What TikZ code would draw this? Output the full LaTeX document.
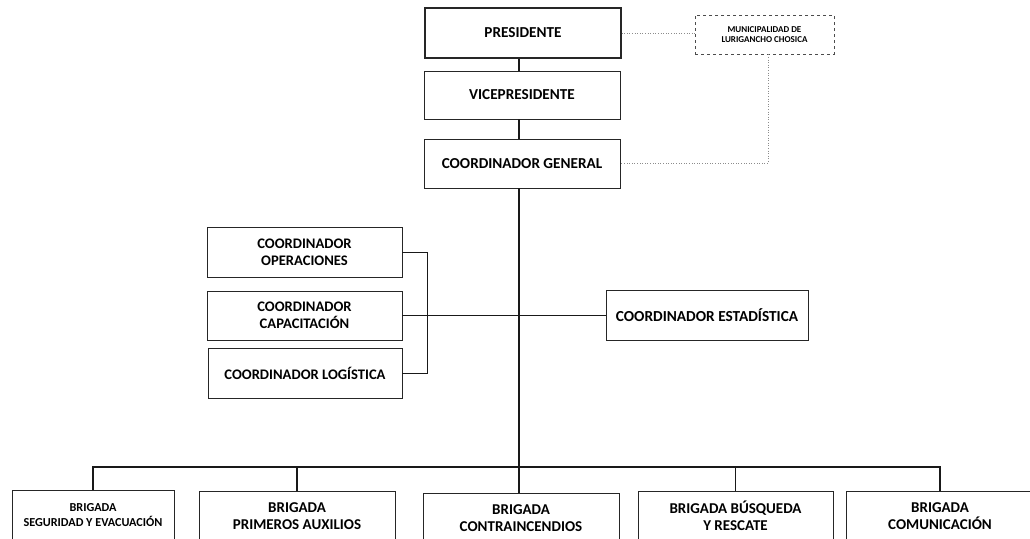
\documentclass[tikz,border=0pt]{standalone}
\usepackage{fontspec}
\setmainfont{Carlito}
\begin{document}
\begin{tikzpicture}[x=1pt,y=-1pt,
  box/.style={draw=black!85, line width=0.8pt, font=\bfseries, align=center, inner sep=0pt},
  topbox/.style={box, font=\fontsize{15.2}{17}\selectfont\bfseries},
  coordbox/.style={box, font=\fontsize{14.6}{17}\selectfont\bfseries},
  brigbox/.style={box, font=\fontsize{15}{17}\selectfont\bfseries},
  conn/.style={line width=1.1pt, black!90},
  dotconn/.style={line width=0.6pt, black!45, dotted}]
\useasboundingbox (0,0) rectangle (1030,538);
\clip (0,0) rectangle (1030,538);
\fill[white] (0,0) rectangle (1030,538);
% top chain
\node[topbox, line width=1.2pt, minimum width=196pt, minimum height=50pt] (pres) at (523,33) {PRESIDENTE};
\node[topbox, minimum width=196pt, minimum height=48pt] (vice) at (522,95) {VICEPRESIDENTE};
\node[topbox, minimum width=196pt, minimum height=49pt] (cgen) at (522,163.5) {COORDINADOR GENERAL};
\node[box, dashed, draw=black!70, line width=0.6pt, minimum width=139pt, minimum height=39pt,
  font=\fontsize{9}{10.5}\selectfont\bfseries] (muni) at (764.5,34.5) {MUNICIPALIDAD DE\\LURIGANCHO CHOSICA};
% coordinators
\node[coordbox, minimum width=195pt, minimum height=50pt] (oper) at (304.5,252.5) {COORDINADOR\\OPERACIONES};
\node[coordbox, minimum width=195pt, minimum height=49pt] (capa) at (304.5,315.5) {COORDINADOR\\CAPACITACIÓN};
\node[coordbox, minimum width=194pt, minimum height=50pt] (logi) at (305,373.5) {COORDINADOR LOGÍSTICA};
\node[coordbox, font=\fontsize{15.3}{17}\selectfont\bfseries, minimum width=202pt, minimum height=50pt] (esta) at (707,315.5) {COORDINADOR ESTADÍSTICA};
% brigades
\node[brigbox, font=\fontsize{12.2}{15}\selectfont\bfseries, minimum width=162pt, minimum height=50pt] (b1) at (93,515) {BRIGADA\\SEGURIDAD Y EVACUACIÓN};
\node[brigbox, minimum width=196pt, minimum height=50pt] (b2) at (297,516) {BRIGADA\\PRIMEROS AUXILIOS};
\node[brigbox, minimum width=196pt, minimum height=50pt] (b3) at (521,518) {BRIGADA\\CONTRAINCENDIOS};
\node[brigbox, minimum width=195pt, minimum height=50pt] (b4) at (735.5,516) {BRIGADA BÚSQUEDA\\Y RESCATE};
\node[brigbox, minimum width=188pt, minimum height=50pt] (b5) at (940,516) {BRIGADA\\COMUNICACIÓN};
% helper coordinates
\coordinate (bus) at (519,467);
\coordinate (mid) at (519,315.5);
\coordinate (brk) at (427.5,315.5);
\coordinate (mcorner) at (768,163);
% connectors
\draw[conn] (pres.south -| 519,0) -- (vice.north -| 519,0);
\draw[conn] (vice.south -| 519,0) -- (cgen.north -| 519,0);
\draw[conn, line width=1.4pt] (cgen.south -| 519,0) -- (bus);
\draw[conn] (b1.north) -- (b1.north |- bus) -- (b5.north |- bus) -- (b5.north);
\draw[conn] (b2.north |- bus) -- (b2.north);
\draw[conn] (bus) -- (b3.north -| bus);
\draw[conn] (b4.north |- bus) -- (b4.north);
\draw[conn, line width=1.1pt] (oper.east) -| (brk) |- (logi.east);
\draw[conn, line width=1.2pt] (capa.east) -- (mid) -- (esta.west);
% dotted links to the municipality
\draw[dotconn] (pres.east) -- (muni.west |- pres.east);
\draw[dotconn] (muni.south -| mcorner) -- (mcorner) -- (cgen.east |- mcorner);
\end{tikzpicture}
\end{document}
